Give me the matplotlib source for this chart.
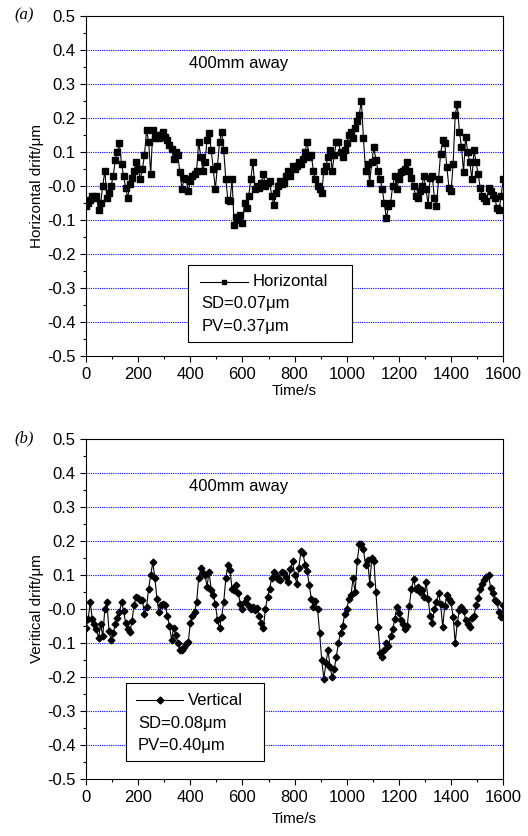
import numpy as np
import matplotlib.pyplot as plt
from matplotlib.patches import Rectangle
from matplotlib.lines import Line2D
from matplotlib.ticker import MultipleLocator

# horizontal drift (um), one sample every 8 s
horizontal = [-0.06, -0.05, -0.04, -0.03, -0.035, -0.03, -0.07, -0.05, 0.0, 0.045,
              -0.035, -0.02, 0.0, 0.03, 0.075, 0.1, 0.125, 0.065, 0.03, -0.005,
              -0.035, 0.005, 0.025, 0.045, 0.07, 0.05, 0.02, 0.05, 0.09, 0.165,
              0.13, 0.035, 0.165, 0.14, 0.15, 0.14, 0.15, 0.16, 0.145, 0.135,
              0.12, 0.11, 0.08, 0.1, 0.09, 0.04, -0.01, 0.025, 0.02, -0.015,
              0.015, 0.03, 0.035, 0.045, 0.13, 0.085, 0.045, 0.07, 0.135, 0.155,
              0.105, 0.05, -0.01, 0.06, 0.13, 0.16, 0.105, 0.02, -0.04, -0.045,
              0.02, -0.115, -0.09, -0.1, -0.085, -0.11, -0.05, -0.065, -0.03, 0.02,
              0.07, -0.01, 0.0, -0.005, 0.01, 0.035, 0.0, 0.01, 0.015, -0.03,
              -0.055, -0.02, 0.0, 0.015, 0.005, 0.01, 0.03, 0.045, 0.03, 0.06,
              0.05, 0.06, 0.07, 0.065, 0.08, 0.1, 0.13, 0.085, 0.09, 0.045,
              0.02, 0.0, -0.01, -0.02, 0.045, 0.06, 0.085, 0.105, 0.045, 0.09,
              0.13, 0.13, 0.1, 0.085, 0.105, 0.125, 0.15, 0.16, 0.14, 0.17,
              0.19, 0.21, 0.25, 0.14, 0.045, 0.065, 0.01, 0.07, 0.115, 0.075,
              0.045, 0.02, -0.01, -0.05, -0.095, -0.06, -0.05, 0.0, 0.03, -0.01,
              0.02, 0.04, 0.045, 0.05, 0.07, 0.045, 0.025, 0.0, -0.03, -0.035,
              -0.015, 0.0, 0.03, -0.01, -0.055, 0.025, 0.03, -0.035, -0.06, 0.02,
              0.095, 0.135, 0.125, 0.055, -0.005, -0.015, 0.065, 0.21, 0.24, 0.16,
              0.115, 0.04, 0.145, 0.1, 0.07, 0.02, 0.105, 0.07, 0.035, -0.005,
              -0.03, -0.035, -0.045, -0.005, -0.015, -0.025, -0.035, -0.065, -0.07, -0.03,
              0.02]

# vertical drift (um), one sample every 8 s
vertical = [-0.055, -0.03, 0.02, -0.03, -0.045, -0.06, -0.085, -0.045, -0.08, 0.0,
            0.02, -0.065, -0.09, -0.07, -0.045, -0.027, -0.01, 0.02, -0.005, -0.042,
            -0.06, -0.068, -0.035, 0.011, 0.036, 0.033, 0.027, 0.026, -0.015, 0.005,
            0.06, 0.1, 0.137, 0.09, 0.03, -0.01, 0.012, 0.016, 0.012, -0.02,
            -0.05, -0.09, -0.055, -0.077, -0.1, -0.12, -0.12, -0.111, -0.104, -0.098,
            -0.04, -0.02, -0.01, 0.02, 0.09, 0.12, 0.106, 0.1, 0.066, 0.11,
            0.056, 0.04, 0.015, -0.032, -0.057, -0.022, 0.02, 0.09, 0.13, 0.115,
            0.06, 0.055, 0.07, 0.046, 0.015, 0.0, 0.02, 0.031, 0.01, 0.0,
            0.006, -0.003, 0.002, -0.02, -0.04, -0.057, 0.0, 0.036, 0.06, 0.09,
            0.11, 0.1, 0.088, 0.085, 0.11, 0.105, 0.095, 0.08, 0.117, 0.14,
            0.1, 0.075, 0.12, 0.17, 0.165, 0.13, 0.112, 0.07, 0.03, 0.006,
            0.025, 0.0, -0.07, -0.15, -0.205, -0.16, -0.12, -0.17, -0.2, -0.175,
            -0.14, -0.1, -0.07, -0.05, -0.015, 0.0, 0.03, 0.04, 0.09, 0.05,
            0.14, 0.19, 0.19, 0.175, 0.13, 0.144, 0.075, 0.15, 0.14, 0.05,
            -0.053, -0.13, -0.14, -0.12, -0.1, -0.11, -0.08, -0.06, -0.03, 0.006,
            -0.013, -0.032, -0.045, -0.06, -0.05, 0.01, 0.06, 0.087, 0.06, 0.065,
            0.05, 0.055, 0.035, 0.08, 0.03, -0.02, -0.042, 0.0, 0.02, 0.046,
            0.015, -0.052, 0.01, 0.041, 0.03, 0.02, -0.023, -0.1, -0.04, -0.003,
            0.006, -0.005, -0.032, -0.045, -0.052, -0.025, -0.02, 0.011, 0.031, 0.06,
            0.075, 0.085, 0.095, 0.1, 0.061, 0.046, 0.026, 0.02, -0.01, -0.023,
            0.011]

t_h = np.arange(len(horizontal)) * 8
t_v = np.arange(len(vertical)) * 8

plt.rcParams['font.family'] = ['Liberation Sans', 'DejaVu Sans']

fig = plt.figure(figsize=(5.28, 8.36), dpi=100)
ax1 = fig.add_axes([0.163, 0.574, 0.79, 0.407])
ax2 = fig.add_axes([0.163, 0.068, 0.79, 0.407])


def style(ax, ylabel, xpad):
    ax.set_xlim(0, 1600)
    ax.set_ylim(-0.5, 0.5)
    ax.xaxis.set_major_locator(MultipleLocator(200))
    ax.xaxis.set_minor_locator(MultipleLocator(100))
    ax.yaxis.set_major_locator(MultipleLocator(0.1))
    ax.yaxis.set_minor_locator(MultipleLocator(0.05))
    ax.tick_params(which='major', direction='out', length=4, width=0.8, labelsize=12)
    ax.tick_params(which='minor', direction='out', length=2.5, width=0.8)
    ax.set_yticks(np.arange(-0.5, 0.51, 0.1))
    ax.set_yticklabels(['%.1f' % v for v in np.arange(-0.5, 0.51, 0.1)])
    for g in np.arange(-0.4, 0.41, 0.1):
        ax.axhline(g, color='#0000ff', lw=0.8, ls=(0, (1, 1)), zorder=0)
    ax.set_xlabel('Time/s', fontsize=11, labelpad=xpad)
    ax.set_ylabel(ylabel, fontsize=11, labelpad=2)
    ax.text(395, 0.36, '400mm away', fontsize=12, va='center')


def legend_box(ax, box, line_y, x0, x1, label, marker, sd, pv, sd_y, pv_y):
    ax.add_patch(Rectangle((box[0], box[1]), box[2], box[3], transform=ax.transAxes,
                           facecolor='white', edgecolor='black', lw=0.8, zorder=5))
    ax.add_line(Line2D([x0, x1], [line_y, line_y], transform=ax.transAxes,
                       color='black', lw=0.8, zorder=6))
    ax.add_line(Line2D([(x0 + x1) / 2], [line_y], transform=ax.transAxes,
                       marker=marker, ms=3.5, color='black', zorder=6))
    ax.text(x1 + 0.012, line_y, label, transform=ax.transAxes, fontsize=12,
            va='center', zorder=7)
    ax.text(x0 + 0.004, sd_y, sd, transform=ax.transAxes, fontsize=12, va='center', zorder=7)
    ax.text(x0 + 0.004, pv_y, pv, transform=ax.transAxes, fontsize=12, va='center', zorder=7)


ax1.plot(t_h, horizontal, color='black', lw=0.8, marker='s', ms=3.8)
style(ax1, 'Horizontal drift/μm', 2)
legend_box(ax1, (0.245, 0.041, 0.393, 0.227), 0.218, 0.273, 0.388, 'Horizontal', 's',
           'SD=0.07μm', 'PV=0.37μm', 0.156, 0.088)

ax2.plot(t_v, vertical, color='black', lw=0.8, marker='D', ms=3.4)
style(ax2, 'Veritical drift/μm', 5)
legend_box(ax2, (0.096, 0.053, 0.331, 0.229), 0.232, 0.120, 0.233, 'Vertical', 'D',
           'SD=0.08μm', 'PV=0.40μm', 0.165, 0.100)

fig.text(0.027, 0.981, '(a)', fontsize=12, style='italic', family='Liberation Serif', va='center')
fig.text(0.027, 0.476, '(b)', fontsize=12, style='italic', family='Liberation Serif', va='center')

fig.savefig('out.png', dpi=100)
